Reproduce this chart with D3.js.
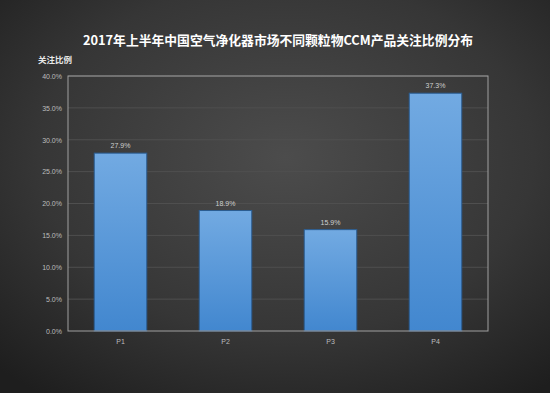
<!DOCTYPE html>
<html><head><meta charset="utf-8">
<script src="https://cdn.jsdelivr.net/npm/d3@7"></script>
<style>body{margin:0;background:#2a2a2a;}svg{display:block;}</style>
</head><body>
<svg id="c" width="550" height="393"></svg>
<script>
const categories = ["P1","P2","P3","P4"];
const values = [27.9, 18.9, 15.9, 37.3];
const yTicks = [0,5,10,15,20,25,30,35,40];
const title = "2017年上半年中国空气净化器市场不同颗粒物CCM产品关注比例分布";
const yTitle = "关注比例";

const W=550,H=393;
const m={left:68,right:62,top:76,bottom:62};
const svg=d3.select("#c");
const defs=svg.append("defs");
const rg=defs.append("radialGradient").attr("id","bg").attr("cx","52%").attr("cy","40%").attr("r","75%");
rg.append("stop").attr("offset","0%").attr("stop-color","#4c4c4c");
rg.append("stop").attr("offset","60%").attr("stop-color","#363636");
rg.append("stop").attr("offset","100%").attr("stop-color","#1e1e1e");
const bg=defs.append("linearGradient").attr("id","bar").attr("x1",0).attr("y1",0).attr("x2",0).attr("y2",1);
bg.append("stop").attr("offset","0%").attr("stop-color","#72aae2");
bg.append("stop").attr("offset","100%").attr("stop-color","#4287cf");
svg.append("rect").attr("width",W).attr("height",H).attr("fill","url(#bg)");

const x=d3.scaleBand().domain(categories).range([m.left,W-m.right]).paddingInner(0.5).paddingOuter(0.25);
const y=d3.scaleLinear().domain([0,40]).range([H-m.bottom,m.top]);

svg.append("text").attr("x",278).attr("y",45).attr("text-anchor","middle")
  .attr("font-family","Noto Sans CJK SC").attr("font-weight","bold").attr("font-size",12.8)
  .attr("fill","#ffffff").text(title);
svg.append("text").attr("x",38).attr("y",63)
  .attr("font-family","Noto Sans CJK SC").attr("font-weight","bold").attr("font-size",8.5)
  .attr("fill","#e8e8e8").text(yTitle);

// gridlines
svg.append("g").selectAll("line").data(yTicks.slice(1)).join("line")
  .attr("x1",m.left).attr("x2",W-m.right).attr("y1",d=>y(d)).attr("y2",d=>y(d))
  .attr("stroke","#4f4f4f").attr("stroke-width",1);

const ya=svg.append("g").attr("transform",`translate(${m.left},0)`)
  .call(d3.axisLeft(y).tickValues(yTicks).tickFormat(d=>d.toFixed(1)+"%").tickSize(0).tickPadding(6));
ya.select(".domain").remove();
ya.selectAll("text").attr("font-family","Liberation Sans, Arial").attr("font-size",7).attr("fill","#bdbdbd");

// bars
svg.append("g").selectAll("rect").data(values).join("rect")
  .attr("x",(d,i)=>x(categories[i])).attr("width",x.bandwidth())
  .attr("y",d=>y(d)).attr("height",d=>y(0)-y(d))
  .attr("fill","url(#bar)").attr("stroke","#2b5d92").attr("stroke-width",1);

svg.append("g").selectAll("text").data(values).join("text")
  .attr("x",(d,i)=>x(categories[i])+x.bandwidth()/2).attr("y",d=>y(d)-5)
  .attr("text-anchor","middle").attr("font-family","Liberation Sans, Arial").attr("font-size",7)
  .attr("fill","#d0d0d0").text(d=>d.toFixed(1)+"%");

// plot border
svg.append("rect").attr("x",m.left).attr("y",m.top).attr("width",W-m.right-m.left).attr("height",H-m.bottom-m.top)
  .attr("fill","none").attr("stroke","#a0a0a0").attr("stroke-width",1);

const xa=svg.append("g").attr("transform",`translate(0,${H-m.bottom})`)
  .call(d3.axisBottom(x).tickSize(0).tickPadding(8));
xa.select(".domain").remove();
xa.selectAll("text").attr("font-family","Liberation Sans, Arial").attr("font-size",7).attr("fill","#bdbdbd");
</script>
</body></html>
